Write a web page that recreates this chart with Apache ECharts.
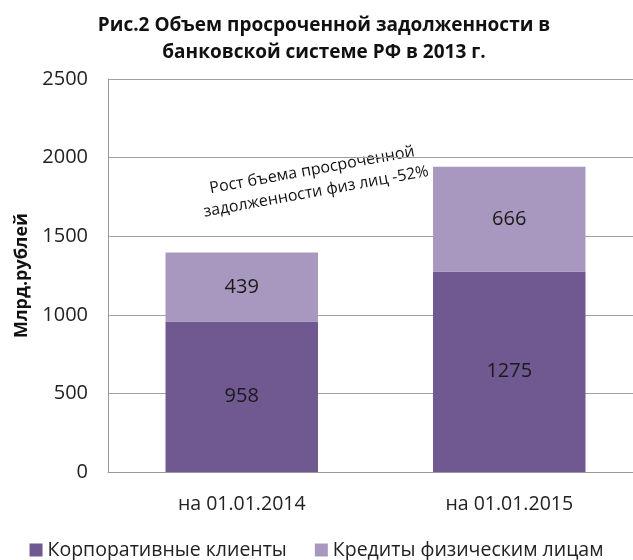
<!DOCTYPE html>
<html><head><meta charset="utf-8">
<script src="https://cdn.jsdelivr.net/npm/echarts@6/dist/echarts.min.js"></script>
<style>html,body{margin:0;padding:0;background:#fff}#c{width:633px;height:560px}</style>
</head><body><div id="c"></div>
<script>
const categories = ['на 01.01.2014', 'на 01.01.2015'];
const corporate = [958, 1275];
const retail = [439, 666];
const seriesNames = ['Корпоративные клиенты', 'Кредиты физическим лицам'];
const titleText = 'Рис.2 Объем просроченной задолженности в\nбанковской системе РФ в 2013 г.';
const yAxisName = 'Млрд.рублей';
const noteText = 'Рост бъема просроченной\nзадолженности физ лиц -52%';
const FONT = '"Open Sans", sans-serif';

const chart = echarts.init(document.getElementById('c'));
chart.setOption({
  animation: false,
  title: {
    text: titleText, left: 319, textAlign: 'center', top: 7,
    textStyle: { fontFamily: FONT, fontWeight: 'bold', fontSize: 19, lineHeight: 27, color: '#111' }
  },
  legend: {
    bottom: -5, left: 'center', itemWidth: 13, itemHeight: 13, itemGap: 28,
    icon: 'rect',
    textStyle: { fontFamily: FONT, fontSize: 19.5, color: '#222' },
    data: seriesNames
  },
  grid: { left: 108, top: 79, width: 535, height: 393, containLabel: false, outerBoundsMode: 'none' },
  xAxis: {
    type: 'category', data: categories,
    axisLine: { lineStyle: { color: '#999' } },
    axisTick: { show: false },
    axisLabel: { fontFamily: FONT, fontSize: 19.5, color: '#222', margin: 22 }
  },
  yAxis: {
    type: 'value', min: 0, max: 2500, interval: 500,
    name: yAxisName, nameLocation: 'middle', nameGap: 76, nameRotate: 90,
    nameTextStyle: { fontFamily: FONT, fontWeight: 'bold', fontSize: 18, color: '#111' },
    axisLine: { show: true, lineStyle: { color: '#999' } },
    axisTick: { show: false },
    splitLine: { lineStyle: { color: '#a0a0a0' } },
    axisLabel: { fontFamily: FONT, fontSize: 20, color: '#222', margin: 20, formatter: v => String(v) }
  },
  series: [
    {
      name: seriesNames[0], type: 'bar', stack: 's', data: corporate, barWidth: '57%',
      itemStyle: { color: '#6f5990' },
      label: { show: true, position: 'inside', fontFamily: FONT, fontSize: 20, color: '#1a1a1a' }
    },
    {
      name: seriesNames[1], type: 'bar', stack: 's', data: retail, barWidth: '57%',
      itemStyle: { color: '#a898bf' },
      label: { show: true, position: 'inside', fontFamily: FONT, fontSize: 20, color: '#1a1a1a' }
    }
  ],
  graphic: [{
    type: 'text', x: 314, y: 181, rotation: 0.18,
    style: { text: noteText, fontFamily: FONT, fontSize: 16, fill: '#111', align: 'center', verticalAlign: 'middle', lineHeight: 22 }
  }]
});
</script></body></html>
